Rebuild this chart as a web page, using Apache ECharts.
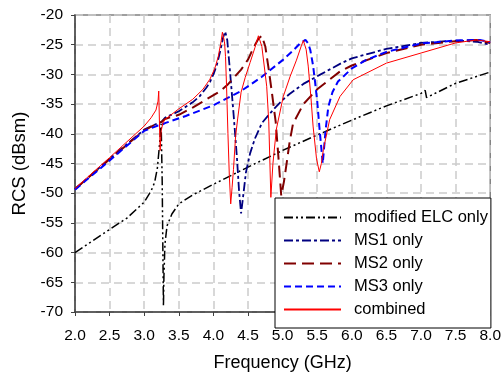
<!DOCTYPE html>
<html><head><meta charset="utf-8">
<script src="https://cdn.jsdelivr.net/npm/echarts@6/dist/echarts.min.js"></script>
<style>html,body{margin:0;padding:0;background:#fff}#c{width:504px;height:377px}</style>
</head><body><div id="c"></div>
<script>
var xTickLabels = ['2.0','2.5','3.0','3.5','4.0','4.5','5.0','5.5','6.0','6.5','7.0','7.5','8.0'];
var yTickLabels = ['-70','-65','-60','-55','-50','-45','-40','-35','-30','-25','-20'];
var seriesNames = ['modified ELC only','MS1 only','MS2 only','MS3 only','combined'];

var elcFreq = [2.0,2.5,2.75,3.0,3.1,3.15,3.19,3.22,3.245,3.26,3.27,3.278,3.285,3.3,3.33,3.4,3.5,3.7,4.0,4.5,5.0,5.5,6.0,6.5,7.0,7.06,7.08,7.5,8.0];
var elcVal  = [-60,-56.1,-54.2,-51.5,-49.6,-48.2,-45.8,-42,-38.3,-48,-60,-69,-64,-58.5,-55.5,-53.5,-51.8,-50.3,-48.5,-45.6,-42.8,-40.2,-37.7,-35.3,-33.2,-32.7,-33.9,-31.5,-29.6];

var ms1Freq = [2.0,2.5,3.0,3.2,3.25,3.3,3.5,3.7,3.8,3.9,3.95,4.0,4.05,4.1,4.14,4.17,4.2,4.24,4.29,4.34,4.37,4.40,4.43,4.47,4.53,4.6,4.7,4.8,4.9,5.0,5.1,5.3,5.55,5.85,6.0,6.5,7.0,7.5,7.8,8.0];
var ms1Val  = [-49.3,-44.2,-39.3,-38.2,-38.0,-37.3,-36.2,-34.7,-33.7,-32.2,-31.3,-30.0,-28.4,-26.0,-23.8,-22.8,-24.2,-29.5,-36.5,-44,-49.5,-53.4,-50.5,-46.5,-43.3,-40.8,-38.2,-36.8,-35.5,-34.3,-33.3,-31.6,-30.0,-28.1,-27.3,-25.7,-24.7,-24.3,-24.5,-25.0];

var ms2Freq = [2.0,2.5,3.0,3.2,3.25,3.3,3.5,3.7,3.9,4.1,4.2,4.3,4.4,4.5,4.58,4.65,4.70,4.75,4.8,4.85,4.9,4.94,4.98,5.02,5.06,5.1,5.15,5.3,5.5,5.83,6.0,6.5,7.0,7.5,7.8,8.0];
var ms2Val  = [-49.3,-44.3,-39.4,-38.2,-38.0,-37.5,-36.8,-35.6,-34.2,-32.8,-31.8,-30.5,-29.2,-27.5,-25.5,-24.0,-23.5,-25.3,-29.2,-33.5,-38,-44,-50.4,-48,-44.8,-41.5,-38.3,-35.0,-32.5,-29.5,-28.5,-26.4,-25.0,-24.4,-24.2,-24.7];

var ms3Freq = [2.0,2.5,3.0,3.2,3.25,3.3,3.6,4.0,4.4,4.7,5.0,5.15,5.25,5.33,5.37,5.40,5.44,5.47,5.50,5.53,5.58,5.62,5.66,5.72,5.8,6.0,6.2,6.5,7.0,7.5,7.85,8.0];
var ms3Val  = [-49.4,-44.5,-39.5,-38.6,-38.5,-38.2,-37.0,-35.2,-32.8,-30.4,-27.6,-26.0,-24.8,-24.2,-24.8,-25.9,-28.5,-31.4,-34.5,-38.7,-45.0,-39.5,-35.5,-33.0,-31.2,-29.0,-27.6,-26.2,-24.8,-24.3,-24.2,-24.6];

var combFreq = [2.0,2.5,3.0,3.1,3.17,3.2,3.21,3.22,3.23,3.245,3.27,3.3,3.5,3.7,3.85,3.95,4.02,4.07,4.11,4.13,4.16,4.175,4.19,4.21,4.23,4.25,4.27,4.29,4.32,4.35,4.4,4.46,4.53,4.6,4.65,4.70,4.77,4.8,4.83,4.86,4.91,5.01,5.11,5.20,5.27,5.30,5.34,5.37,5.41,5.44,5.49,5.53,5.56,5.59,5.68,5.83,6.02,6.5,7.0,7.5,7.8,8.0];
var combVal  = [-49.2,-44.0,-38.7,-37.3,-36.0,-34.5,-32.8,-38,-42.8,-39.5,-38.2,-37.6,-35.8,-34.2,-32.5,-30.8,-29.0,-27.0,-24.5,-22.9,-24.5,-27,-32,-40,-47,-51.8,-49,-46,-40.5,-37.5,-33.0,-30.5,-28.0,-25.5,-23.5,-25.3,-32,-38,-50.7,-45,-39.2,-33.7,-30.3,-27.6,-25.2,-24.3,-25.8,-28.6,-34,-38.7,-44.2,-46.4,-45,-42.6,-37.6,-33.7,-30.9,-28.1,-26.4,-24.7,-24.2,-24.5];

function pairs(f, v){ return f.map(function(x,i){ return [x, v[i]]; }); }

var styles = [
  {color:'#000000', width:1.5, type:[9,3,2,3,2,3]},
  {color:'#000080', width:1.8, type:[9,3,3,3]},
  {color:'#800000', width:2, type:[12,6]},
  {color:'#0000ff', width:2, type:[7,4]},
  {color:'#ff0000', width:1, type:'solid'}
];
var datas = [pairs(elcFreq,elcVal), pairs(ms1Freq,ms1Val), pairs(ms2Freq,ms2Val), pairs(ms3Freq,ms3Val), pairs(combFreq,combVal)];

var FONT = 'Liberation Sans, Arial, sans-serif';
var chart = echarts.init(document.getElementById('c'), null, {renderer:'canvas'});
chart.setOption({
  animation:false,
  backgroundColor:'#ffffff',
  grid:{left:75, right:13, top:15, bottom:63, show:true, borderColor:'#808080', borderWidth:1.5, backgroundColor:'transparent'},
  xAxis:{type:'value', min:2, max:8, interval:0.5,
    name:'Frequency (GHz)', nameLocation:'middle', nameGap:42,
    nameTextStyle:{fontFamily:FONT, fontSize:18, color:'#000'},
    axisLine:{show:true, onZero:false, lineStyle:{color:'#404040', width:1.5}},
    axisTick:{show:true, inside:false, length:4, lineStyle:{color:'#404040'}},
    axisLabel:{margin:16, fontFamily:FONT, fontSize:15.5, color:'#000',
      formatter:function(v){ var i=Math.round((v-2)/0.5); return xTickLabels[i]; }},
    splitLine:{show:true, lineStyle:{color:'#cccccc', width:1.5, type:[8,5]}}
  },
  yAxis:{type:'value', min:-70, max:-20, interval:5,
    name:'RCS (dBsm)', nameLocation:'middle', nameGap:46, nameRotate:90,
    nameTextStyle:{fontFamily:FONT, fontSize:18.5, color:'#000'},
    axisLine:{show:true, onZero:false, lineStyle:{color:'#404040', width:1.5}},
    axisTick:{show:true, inside:false, length:4, lineStyle:{color:'#404040'}},
    axisLabel:{margin:12, fontFamily:FONT, fontSize:15.5, color:'#000',
      formatter:function(v){ var i=Math.round((v+70)/5); return yTickLabels[i]; }},
    splitLine:{show:true, lineStyle:{color:'#cccccc', width:1.5, type:[8,5]}}
  },
  legend:{orient:'vertical', left:275, top:198,
    backgroundColor:'#ffffff', borderColor:'#000000', borderWidth:1,
    padding:[11,3,10,8], itemWidth:57, itemHeight:14, itemGap:6,
    itemStyle:{opacity:0},
    textStyle:{fontFamily:FONT, fontSize:16.5, color:'#000', padding:[0,0,0,8]},
    data:seriesNames},
  series: seriesNames.map(function(n,i){
    return {name:n, type:'line', data:datas[i], showSymbol:false, symbol:'none',
      lineStyle:styles[i], itemStyle:{color:styles[i].color}, z: (i===4?6:2+i)};
  })
});
</script></body></html>
